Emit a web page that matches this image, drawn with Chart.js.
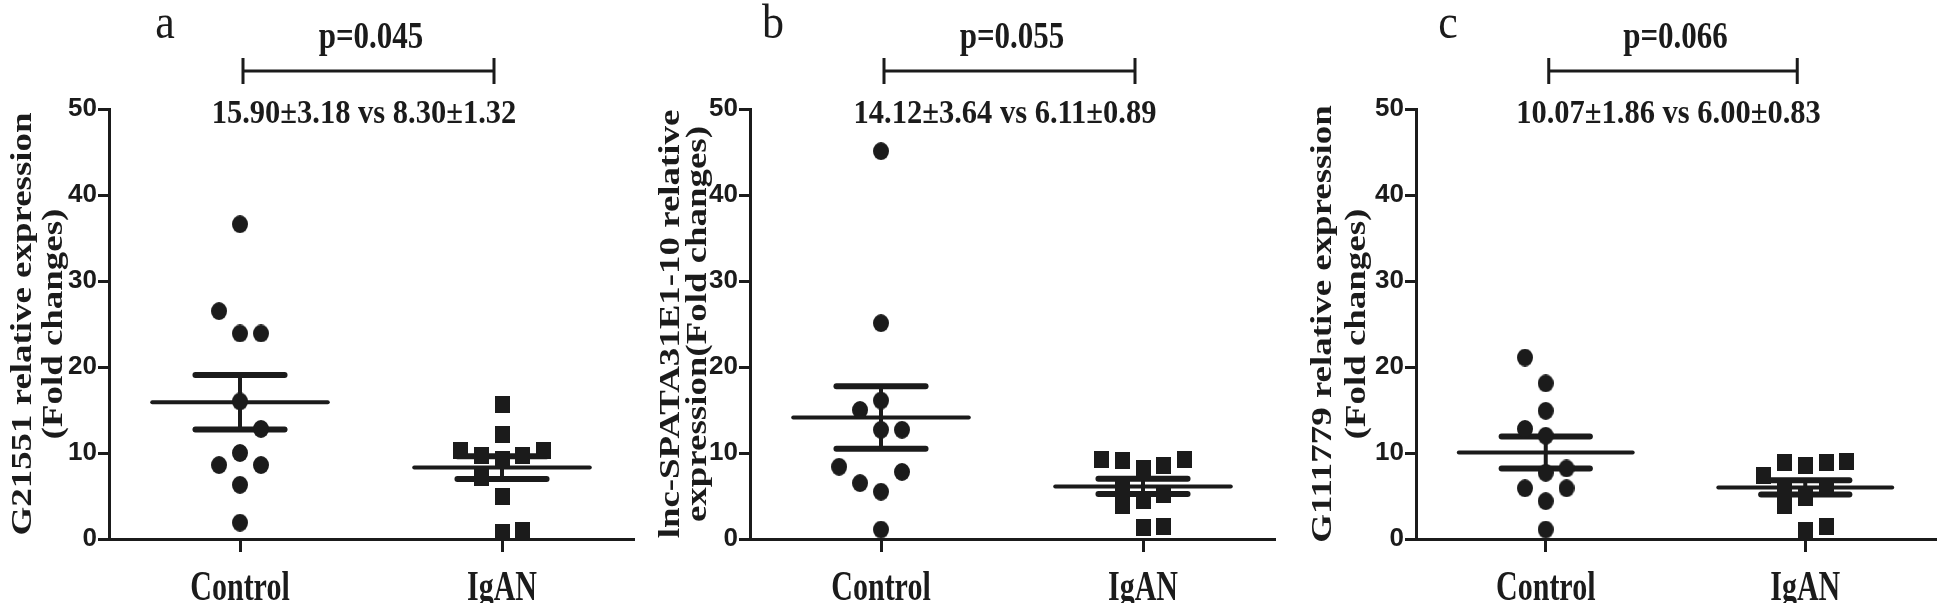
<!DOCTYPE html>
<html lang="en">
<head>
<meta charset="UTF-8">
<title>Relative expression, Control vs IgAN</title>
<script src="https://cdn.jsdelivr.net/npm/chart.js"></script>
<style>
  body { margin: 0; background: #fff; width: 1946px; height: 603px; overflow: hidden; position: relative; }
  .panel { position: absolute; top: 0; width: 648px; height: 603px; }
</style>
</head>
<body>
<div class="panel" style="left:0px"><canvas id="chartA" width="648" height="603"></canvas></div>
<div class="panel" style="left:648px"><canvas id="chartB" width="648" height="603"></canvas></div>
<div class="panel" style="left:1296px"><canvas id="chartC" width="648" height="603"></canvas></div>
<script>
// ---- data ----
const groups = ["Control", "IgAN"];
const yTicks = [0, 10, 20, 30, 40, 50];

// panel a: G21551
const controlA = [36.6, 26.5, 23.9, 23.9, 16.0, 12.8, 10.0, 8.6, 8.6, 6.3, 1.9];
const controlLaneA = [0, -1, 0, 1, 0, 1, 0, -1, 1, 0, 0];
const iganA = [15.6, 12.2, 10.3, 9.7, 9.3, 9.7, 10.3, 7.2, 5.0, 0.8, 1.0];
const iganLaneA = [0, 0, -2, -1, 0, 1, 2, -1, 0, 0, 1];
const meanA = [15.90, 8.30];
const semA = [3.18, 1.32];
const pA = "p=0.045";
const titleA = ["G21551 relative expression", "(Fold changes)"];

// panel b: lnc-SPATA31E1-10
const controlB = [45.1, 25.1, 16.1, 15.0, 12.7, 12.7, 8.4, 7.8, 6.5, 5.5, 1.1];
const controlLaneB = [0, 0, 0, -1, 0, 1, -2, 1, -1, 0, 0];
const iganB = [9.2, 9.1, 6.0, 3.9, 8.2, 4.5, 8.6, 5.2, 9.2, 1.3, 1.5];
const iganLaneB = [-2, -1, -1, -1, 0, 0, 1, 1, 2, 0, 1];
const meanB = [14.12, 6.11];
const semB = [3.64, 0.89];
const pB = "p=0.055";
const titleB = ["lnc-SPATA31E1-10 relative", "expression(Fold changes)"];

// panel c: G111779
const controlC = [21.1, 18.1, 14.9, 12.8, 12.0, 8.2, 7.7, 5.9, 5.9, 4.4, 1.1];
const controlLaneC = [-1, 0, 0, -1, 0, 1, 0, -1, 1, 0, 0];
const iganC = [9.0, 8.9, 8.5, 8.9, 7.4, 6.0, 3.9, 4.8, 6.1, 1.0, 1.5];
const iganLaneC = [2, 1, 0, -1, -2, -1, -1, 0, 1, 0, 1];
const meanC = [10.07, 6.00];
const semC = [1.86, 0.83];
const pC = "p=0.066";
const titleC = ["G111779 relative expression", "(Fold changes)"];

// ---- drawing ----
const INK = "#1b1b1b";
const SERIF = "'Liberation Serif', 'Times New Roman', serif";
const SANS = "'Liberation Sans', Arial, sans-serif";
const LANE = 0.08;

function makeMarker(shape, w, h) {
    const c = document.createElement("canvas");
    c.width = w; c.height = h;
    const g = c.getContext("2d");
    g.fillStyle = INK;
    if (shape === "dot") {
        g.beginPath();
        g.ellipse(w / 2, h / 2, w / 2, h / 2, 0, 0, Math.PI * 2);
        g.fill();
    } else {
        g.fillRect(0, 0, w, h);
    }
    return c;
}
const dotImg = makeMarker("dot", 16, 18);
const squareImg = makeMarker("square", 15, 17);

function stretchText(ctx, text, x, y, font, sy) {
    ctx.save();
    ctx.translate(x, y);
    ctx.scale(1, sy);
    ctx.font = font;
    ctx.textAlign = "center";
    ctx.textBaseline = "alphabetic";
    ctx.fillStyle = INK;
    ctx.fillText(text, 0, 0);
    ctx.restore();
}

function lineSet(points, width) {
    return {
        type: "line", data: points, borderColor: INK, borderWidth: width,
        borderCapStyle: "round", pointRadius: 0, fill: false, clip: false
    };
}

function makePanel(id, p) {
    const datasets = [
        {
            data: p.control.map((v, i) => ({ x: 1 + p.controlLane[i] * LANE, y: v })),
            pointStyle: dotImg, pointRadius: 8, showLine: false
        },
        {
            data: p.igan.map((v, i) => ({ x: 2 + p.iganLane[i] * LANE, y: v })),
            pointStyle: squareImg, pointRadius: 8, showLine: false
        }
    ];
    p.mean.forEach((m, i) => {
        const g = i + 1, s = p.sem[i];
        datasets.push(lineSet([{ x: g - 0.335, y: m }, { x: g + 0.335, y: m }], 4));
        datasets.push(lineSet([{ x: g - 0.17, y: m + s }, { x: g + 0.17, y: m + s }], 6));
        datasets.push(lineSet([{ x: g - 0.17, y: m - s }, { x: g + 0.17, y: m - s }], 6));
        datasets.push(lineSet([{ x: g, y: m - s }, { x: g, y: m + s }], 4));
    });

    const decor = {
        id: "decor",
        afterDraw(chart) {
            const ctx = chart.ctx;
            const xs = chart.scales.x;
            const area = chart.chartArea;
            const mid = xs.getPixelForValue(1.5);

            // panel letter
            stretchText(ctx, p.letter, p.letterX, 38, "44px " + SERIF, 1.12);

            // p value and bracket
            stretchText(ctx, p.pText, mid, 48, "bold 31px " + SERIF, 1.22);
            const bx1 = xs.getPixelForValue(1) + 3, bx2 = xs.getPixelForValue(2) - 8;
            ctx.save();
            ctx.strokeStyle = INK;
            ctx.lineWidth = 3;
            ctx.beginPath();
            ctx.moveTo(bx1, 71); ctx.lineTo(bx2, 71);
            ctx.moveTo(bx1, 58); ctx.lineTo(bx1, 84);
            ctx.moveTo(bx2, 58); ctx.lineTo(bx2, 84);
            ctx.stroke();
            ctx.restore();

            // mean ± SEM text
            const stat = p.mean[0].toFixed(2) + "±" + p.sem[0].toFixed(2) + " vs " +
                         p.mean[1].toFixed(2) + "±" + p.sem[1].toFixed(2);
            stretchText(ctx, stat, mid - 7, 123, "bold 30.5px " + SERIF, 1.12);

            // category labels
            groups.forEach((g, i) => {
                stretchText(ctx, g, xs.getPixelForValue(i + 1), 600, "bold 30px " + SERIF, 1.42);
            });

            // y axis title, two rotated lines
            const yc = (area.top + area.bottom) / 2;
            p.title.forEach((t, i) => {
                ctx.save();
                ctx.translate(p.titleX[i], yc);
                ctx.rotate(-Math.PI / 2);
                ctx.scale(1.23, 1);
                ctx.font = "bold 30px " + SERIF;
                ctx.textAlign = "center";
                ctx.textBaseline = "middle";
                ctx.fillStyle = INK;
                ctx.fillText(t, 0, 0);
                ctx.restore();
            });
        }
    };

    new Chart(document.getElementById(id), {
        type: "scatter",
        data: { datasets },
        options: {
            responsive: false,
            animation: false,
            events: [],
            layout: { padding: { left: 0, right: p.padRight, top: 109, bottom: 0 } },
            plugins: { legend: { display: false }, tooltip: { enabled: false } },
            scales: {
                x: {
                    type: "linear", min: 0.5, max: 2.5,
                    afterBuildTicks: s => { s.ticks = groups.map((g, i) => ({ value: i + 1 })); },
                    afterFit: s => { s.height = 64; },
                    ticks: { display: false },
                    grid: { display: true, drawOnChartArea: false, drawTicks: true, tickLength: 13, lineWidth: 3, color: INK },
                    border: { display: true, width: 3, color: INK }
                },
                y: {
                    min: 0, max: 50,
                    afterBuildTicks: s => { s.ticks = yTicks.map(v => ({ value: v })); },
                    afterFit: s => { s.width = p.axisLeft; },
                    ticks: { color: INK, padding: 1, font: { family: SANS, size: 26, weight: "bold" } },
                    grid: { display: true, drawOnChartArea: false, drawTicks: true, tickLength: 11, lineWidth: 3, color: INK },
                    border: { display: true, width: 3, color: INK }
                }
            }
        },
        plugins: [decor]
    });
}

makePanel("chartA", {
    control: controlA, controlLane: controlLaneA, igan: iganA, iganLane: iganLaneA,
    mean: meanA, sem: semA, pText: pA, title: titleA, letter: "a",
    axisLeft: 109, padRight: 15, letterX: 165, titleX: [23, 54]
});
makePanel("chartB", {
    control: controlB, controlLane: controlLaneB, igan: iganB, iganLane: iganLaneB,
    mean: meanB, sem: semB, pText: pB, title: titleB, letter: "b",
    axisLeft: 102, padRight: 22, letterX: 125, titleX: [23, 50]
});
makePanel("chartC", {
    control: controlC, controlLane: controlLaneC, igan: iganC, iganLane: iganLaneC,
    mean: meanC, sem: semC, pText: pC, title: titleC, letter: "c",
    axisLeft: 120, padRight: 4, letterX: 152, titleX: [27, 61]
});
</script>
</body>
</html>
